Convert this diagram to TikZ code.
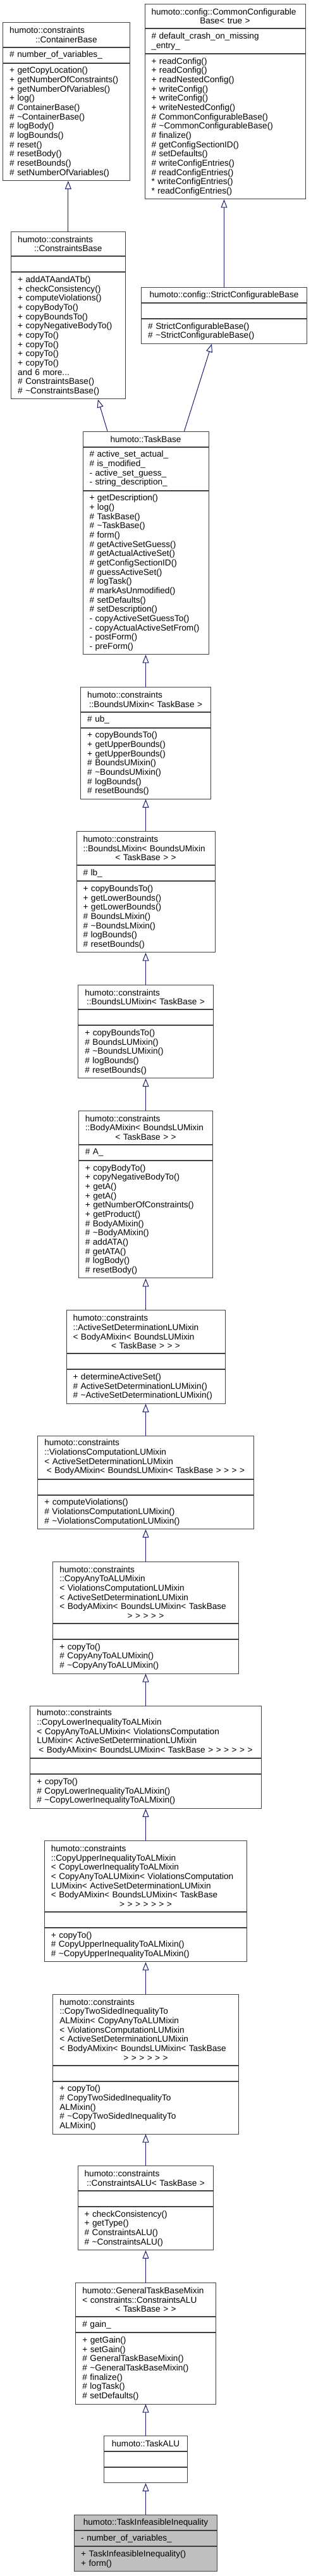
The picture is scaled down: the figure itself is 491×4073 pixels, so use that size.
\documentclass[tikz,border=0pt]{standalone}
\usepackage{fontspec}
\setmainfont{Liberation Sans}
\usepackage{tikz}
\usetikzlibrary{positioning,arrows.meta}
\definecolor{edgeblue}{HTML}{191970}
\definecolor{boxgrey}{HTML}{404040}
\definecolor{curgrey}{HTML}{BFBFBF}
\tikzset{
  sec/.style ={rectangle, draw=boxgrey, fill=white, line width=1pt, align=left,
               inner xsep=10.5pt, inner ysep=3pt, anchor=north,
               font=\fontsize{13.6pt}{14.66pt}\selectfont},
  nl/.style  ={minimum height=#1*14.66pt+9.4pt},
  cur/.style ={fill=curgrey},
  inh/.style ={-{Triangle[open, length=13pt, width=10pt]}, draw=edgeblue, line width=1pt},
}
\newcommand{\cl}[1]{\makebox[\hsize]{#1}}
\newcommand{\td}{\textasciitilde}

\begin{document}
\begin{tikzpicture}[x=1pt, y=-1pt]
  \useasboundingbox (0,0) rectangle (491,4073);

  % bases
  \node[sec, nl=2, text width=179.3pt] (cb) at (104.85,35) {humoto::constraints\\\cl{::ContainerBase}};
  \node[sec, nl=1, text width=179.3pt, below=0pt of cb] (cb-a) {\# number\_of\_variables\_};
  \node[sec, nl=12, text width=179.3pt, below=0pt of cb-a] (cb-m) {+ getCopyLocation()\\+ getNumberOfConstraints()\\+ getNumberOfVariables()\\+ log()\\\# ContainerBase()\\\# \td ContainerBase()\\\# logBody()\\\# logBounds()\\\# reset()\\\# resetBody()\\\# resetBounds()\\\# setNumberOfVariables()};

  \node[sec, nl=2, text width=233pt] (ccb) at (356,5.7) {humoto::config::CommonConfigurable\\\cl{Base< true >}};
  \node[sec, nl=2, text width=233pt, below=0pt of ccb] (ccb-a) {\# default\_crash\_on\_missing\\\_entry\_};
  \node[sec, nl=15, text width=233pt, below=0pt of ccb-a] (ccb-m) {+ readConfig()\\+ readConfig()\\+ readNestedConfig()\\+ writeConfig()\\+ writeConfig()\\+ writeNestedConfig()\\\# CommonConfigurableBase()\\\# \td CommonConfigurableBase()\\\# finalize()\\\# getConfigSectionID()\\\# setDefaults()\\\# writeConfigEntries()\\\# readConfigEntries()\\{*} writeConfigEntries()\\{*} readConfigEntries()};

  \node[sec, nl=2, text width=159.3pt] (csb) at (107.85,365.7) {humoto::constraints\\\cl{::ConstraintsBase}};
  \node[sec, nl=1, text width=159.3pt, below=0pt of csb] (csb-a) {};
  \node[sec, nl=13, text width=159.3pt, below=0pt of csb-a] (csb-m) {+ addATAandATb()\\+ checkConsistency()\\+ computeViolations()\\+ copyBodyTo()\\+ copyBoundsTo()\\+ copyNegativeBodyTo()\\+ copyTo()\\+ copyTo()\\+ copyTo()\\+ copyTo()\\and 6 more...\\\# ConstraintsBase()\\\# \td ConstraintsBase()};

  \node[sec, nl=1, text width=240.6pt] (scb) at (354.5,454) {\cl{humoto::config::StrictConfigurableBase}};
  \node[sec, nl=1, text width=240.6pt, below=0pt of scb] (scb-a) {};
  \node[sec, nl=2, text width=240.6pt, below=0pt of scb-a] (scb-m) {\# StrictConfigurableBase()\\\# \td StrictConfigurableBase()};

  % main chain
  \node[sec, nl=1, text width=178pt] (tb) at (230.5,681.7) {\cl{humoto::TaskBase}};
  \node[sec, nl=4, text width=178pt, below=0pt of tb] (tb-a) {\# active\_set\_actual\_\\\# is\_modified\_\\- active\_set\_guess\_\\- string\_description\_};
  \node[sec, nl=17, text width=178pt, below=0pt of tb-a] (tb-m) {+ getDescription()\\+ log()\\\# TaskBase()\\\# \td TaskBase()\\\# form()\\\# getActiveSetGuess()\\\# getActualActiveSet()\\\# getConfigSectionID()\\\# guessActiveSet()\\\# logTask()\\\# markAsUnmodified()\\\# setDefaults()\\\# setDescription()\\- copyActiveSetGuessTo()\\- copyActualActiveSetFrom()\\- postForm()\\- preForm()};

  \node[sec, nl=2, text width=184.6pt] (bu) at (230.5,1086) {humoto::constraints\\\cl{::BoundsUMixin< TaskBase >}};
  \node[sec, nl=1, text width=184.6pt, below=0pt of bu] (bu-a) {\# ub\_};
  \node[sec, nl=7, text width=184.6pt, below=0pt of bu-a] (bu-m) {+ copyBoundsTo()\\+ getUpperBounds()\\+ getUpperBounds()\\\# BoundsUMixin()\\\# \td BoundsUMixin()\\\# logBounds()\\\# resetBounds()};

  \node[sec, nl=3, text width=198pt] (bl) at (230.5,1314) {humoto::constraints\\::BoundsLMixin< BoundsUMixin\\\cl{< TaskBase > >}};
  \node[sec, nl=1, text width=198pt, below=0pt of bl] (bl-a) {\# lb\_};
  \node[sec, nl=7, text width=198pt, below=0pt of bl-a] (bl-m) {+ copyBoundsTo()\\+ getLowerBounds()\\+ getLowerBounds()\\\# BoundsLMixin()\\\# \td BoundsLMixin()\\\# logBounds()\\\# resetBounds()};

  \node[sec, nl=2, text width=192.3pt] (blu) at (230.5,1556.7) {humoto::constraints\\\cl{::BoundsLUMixin< TaskBase >}};
  \node[sec, nl=1, text width=192.3pt, below=0pt of blu] (blu-a) {};
  \node[sec, nl=5, text width=192.3pt, below=0pt of blu-a] (blu-m) {+ copyBoundsTo()\\\# BoundsLUMixin()\\\# \td BoundsLUMixin()\\\# logBounds()\\\# resetBounds()};

  \node[sec, nl=3, text width=191.4pt] (ba) at (230.5,1755.7) {humoto::constraints\\::BodyAMixin< BoundsLUMixin\\\cl{< TaskBase > >}};
  \node[sec, nl=1, text width=191.4pt, below=0pt of ba] (ba-a) {\# A\_};
  \node[sec, nl=12, text width=191.4pt, below=0pt of ba-a] (ba-m) {+ copyBodyTo()\\+ copyNegativeBodyTo()\\+ getA()\\+ getA()\\+ getNumberOfConstraints()\\+ getProduct()\\\# BodyAMixin()\\\# \td BodyAMixin()\\\# addATA()\\\# getATA()\\\# logBody()\\\# resetBody()};

  \node[sec, nl=4, text width=230pt] (asd) at (230.5,2071.3) {humoto::constraints\\::ActiveSetDeterminationLUMixin\\< BodyAMixin< BoundsLUMixin\\\cl{< TaskBase > > >}};
  \node[sec, nl=1, text width=230pt, below=0pt of asd] (asd-a) {};
  \node[sec, nl=3, text width=230pt, below=0pt of asd-a] (asd-m) {+ determineActiveSet()\\\# ActiveSetDeterminationLUMixin()\\\# \td ActiveSetDeterminationLUMixin()};

  \node[sec, nl=4, text width=320.3pt] (vc) at (230.5,2269.7) {humoto::constraints\\::ViolationsComputationLUMixin\\< ActiveSetDeterminationLUMixin\\\cl{< BodyAMixin< BoundsLUMixin< TaskBase > > > >}};
  \node[sec, nl=1, text width=320.3pt, below=0pt of vc] (vc-a) {};
  \node[sec, nl=3, text width=320.3pt, below=0pt of vc-a] (vc-m) {+ computeViolations()\\\# ViolationsComputationLUMixin()\\\# \td ViolationsComputationLUMixin()};

  \node[sec, nl=6, text width=272.3pt] (cat) at (230.5,2468.7) {humoto::constraints\\::CopyAnyToALUMixin\\< ViolationsComputationLUMixin\\< ActiveSetDeterminationLUMixin\\< BodyAMixin< BoundsLUMixin< TaskBase\\\cl{> > > > >}};
  \node[sec, nl=1, text width=272.3pt, below=0pt of cat] (cat-a) {};
  \node[sec, nl=3, text width=272.3pt, below=0pt of cat-a] (cat-m) {+ copyTo()\\\# CopyAnyToALUMixin()\\\# \td CopyAnyToALUMixin()};

  \node[sec, nl=5, text width=344.3pt] (cli) at (230.5,2696.7) {humoto::constraints\\::CopyLowerInequalityToALMixin\\< CopyAnyToALUMixin< ViolationsComputation\\LUMixin< ActiveSetDeterminationLUMixin\\\cl{< BodyAMixin< BoundsLUMixin< TaskBase > > > > > >}};
  \node[sec, nl=1, text width=344.3pt, below=0pt of cli] (cli-a) {};
  \node[sec, nl=3, text width=344.3pt, below=0pt of cli-a] (cli-m) {+ copyTo()\\\# CopyLowerInequalityToALMixin()\\\# \td CopyLowerInequalityToALMixin()};

  \node[sec, nl=7, text width=299.4pt] (cui) at (230.5,2910) {humoto::constraints\\::CopyUpperInequalityToALMixin\\< CopyLowerInequalityToALMixin\\< CopyAnyToALUMixin< ViolationsComputation\\LUMixin< ActiveSetDeterminationLUMixin\\< BodyAMixin< BoundsLUMixin< TaskBase\\\cl{> > > > > > >}};
  \node[sec, nl=1, text width=299.4pt, below=0pt of cui] (cui-a) {};
  \node[sec, nl=3, text width=299.4pt, below=0pt of cui-a] (cui-m) {+ copyTo()\\\# CopyUpperInequalityToALMixin()\\\# \td CopyUpperInequalityToALMixin()};

  \node[sec, nl=7, text width=272.3pt] (cts) at (230.5,3152.7) {humoto::constraints\\::CopyTwoSidedInequalityTo\\ALMixin< CopyAnyToALUMixin\\< ViolationsComputationLUMixin\\< ActiveSetDeterminationLUMixin\\< BodyAMixin< BoundsLUMixin< TaskBase\\\cl{> > > > > >}};
  \node[sec, nl=1, text width=272.3pt, below=0pt of cts] (cts-a) {};
  \node[sec, nl=5, text width=272.3pt, below=0pt of cts-a] (cts-m) {+ copyTo()\\\# CopyTwoSidedInequalityTo\\ALMixin()\\\# \td CopyTwoSidedInequalityTo\\ALMixin()};

  \node[sec, nl=2, text width=193.7pt] (calu) at (230.5,3424.3) {humoto::constraints\\\cl{::ConstraintsALU< TaskBase >}};
  \node[sec, nl=1, text width=193.7pt, below=0pt of calu] (calu-a) {};
  \node[sec, nl=4, text width=193.7pt, below=0pt of calu-a] (calu-m) {+ checkConsistency()\\+ getType()\\\# ConstraintsALU()\\\# \td ConstraintsALU()};

  \node[sec, nl=3, text width=200.3pt] (gtb) at (230.5,3609) {humoto::GeneralTaskBaseMixin\\< constraints::ConstraintsALU\\\cl{< TaskBase > >}};
  \node[sec, nl=1, text width=200.3pt, below=0pt of gtb] (gtb-a) {\# gain\_};
  \node[sec, nl=7, text width=200.3pt, below=0pt of gtb-a] (gtb-m) {+ getGain()\\+ setGain()\\\# GeneralTaskBaseMixin()\\\# \td GeneralTaskBaseMixin()\\\# finalize()\\\# logTask()\\\# setDefaults()};

  \node[sec, nl=1, text width=111pt] (talu) at (230.5,3851) {\cl{humoto::TaskALU}};
  \node[sec, nl=1, text width=111pt, below=0pt of talu] (talu-a) {};
  \node[sec, nl=1, text width=111pt, below=0pt of talu-a] (talu-m) {};

  \node[sec, cur, nl=1, text width=204.6pt] (tii) at (230.5,3976.3) {\cl{humoto::TaskInfeasibleInequality}};
  \node[sec, cur, nl=1, text width=204.6pt, below=0pt of tii] (tii-a) {- number\_of\_variables\_};
  \node[sec, cur, nl=2, text width=204.6pt, below=0pt of tii-a] (tii-m) {+ TaskInfeasibleInequality()\\+ form()};

  % inheritance
  \draw[inh] (csb.north) -- (csb.north |- cb-m.south);
  \draw[inh] (scb.north) -- (scb.north |- ccb-m.south);
  \draw[inh] ([xshift=-60.5pt]tb.north) -- ([xshift=47pt]csb-m.south);
  \draw[inh] ([xshift=61pt]tb.north) -- ([xshift=-19.5pt]scb-m.south);
  \draw[inh] (bu) -- (tb-m);
  \draw[inh] (bl) -- (bu-m);
  \draw[inh] (blu) -- (bl-m);
  \draw[inh] (ba) -- (blu-m);
  \draw[inh] (asd) -- (ba-m);
  \draw[inh] (vc) -- (asd-m);
  \draw[inh] (cat) -- (vc-m);
  \draw[inh] (cli) -- (cat-m);
  \draw[inh] (cui) -- (cli-m);
  \draw[inh] (cts) -- (cui-m);
  \draw[inh] (calu) -- (cts-m);
  \draw[inh] (gtb) -- (calu-m);
  \draw[inh] (talu) -- (gtb-m);
  \draw[inh] (tii) -- (talu-m);
\end{tikzpicture}
\end{document}
